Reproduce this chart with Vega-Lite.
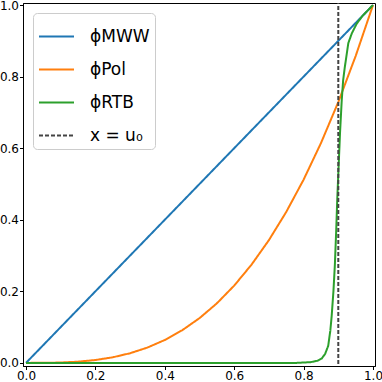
{
  "$schema": "https://vega.github.io/schema/vega-lite/v6.json",
  "width": 352,
  "height": 363,
  "autosize": "none",
  "padding": {"left": 23, "top": 3, "right": 7, "bottom": 16},
  "background": "white",
  "config": {
    "font": "DejaVu Sans",
    "view": {"stroke": "black", "strokeWidth": 1},
    "axis": {"grid": false, "domainColor": "black", "tickColor": "black", "labelColor": "black", "labelFontSize": 12, "tickSize": 3.5, "labelPadding": 1, "title": null, "labelFont": "DejaVu Sans"}
  },
  "data": {
    "values": [
      {"s": "ϕMWW", "u": 0, "v": 0, "o": 0},
      {"s": "ϕMWW", "u": 1, "v": 1, "o": 1},
      {"s": "ϕPol", "u": 0, "v": 0, "o": 0},
      {"s": "ϕPol", "u": 0.05, "v": 0.000125, "o": 1},
      {"s": "ϕPol", "u": 0.1, "v": 0.001, "o": 2},
      {"s": "ϕPol", "u": 0.15, "v": 0.003375, "o": 3},
      {"s": "ϕPol", "u": 0.2, "v": 0.008, "o": 4},
      {"s": "ϕPol", "u": 0.25, "v": 0.015625, "o": 5},
      {"s": "ϕPol", "u": 0.3, "v": 0.027, "o": 6},
      {"s": "ϕPol", "u": 0.35, "v": 0.042875, "o": 7},
      {"s": "ϕPol", "u": 0.4, "v": 0.064, "o": 8},
      {"s": "ϕPol", "u": 0.45, "v": 0.091125, "o": 9},
      {"s": "ϕPol", "u": 0.5, "v": 0.125, "o": 10},
      {"s": "ϕPol", "u": 0.55, "v": 0.166375, "o": 11},
      {"s": "ϕPol", "u": 0.6, "v": 0.216, "o": 12},
      {"s": "ϕPol", "u": 0.65, "v": 0.274625, "o": 13},
      {"s": "ϕPol", "u": 0.7, "v": 0.343, "o": 14},
      {"s": "ϕPol", "u": 0.75, "v": 0.421875, "o": 15},
      {"s": "ϕPol", "u": 0.8, "v": 0.512, "o": 16},
      {"s": "ϕPol", "u": 0.85, "v": 0.614125, "o": 17},
      {"s": "ϕPol", "u": 0.9, "v": 0.729, "o": 18},
      {"s": "ϕPol", "u": 0.95, "v": 0.857375, "o": 19},
      {"s": "ϕPol", "u": 1, "v": 1, "o": 20},
      {"s": "ϕRTB", "u": 0, "v": 0, "o": 0},
      {"s": "ϕRTB", "u": 0.78, "v": 0, "o": 1},
      {"s": "ϕRTB", "u": 0.82, "v": 0.002, "o": 2},
      {"s": "ϕRTB", "u": 0.84, "v": 0.006, "o": 3},
      {"s": "ϕRTB", "u": 0.852, "v": 0.012, "o": 4},
      {"s": "ϕRTB", "u": 0.862, "v": 0.025, "o": 5},
      {"s": "ϕRTB", "u": 0.871, "v": 0.048, "o": 6},
      {"s": "ϕRTB", "u": 0.877, "v": 0.09, "o": 7},
      {"s": "ϕRTB", "u": 0.881, "v": 0.132, "o": 8},
      {"s": "ϕRTB", "u": 0.886, "v": 0.2, "o": 9},
      {"s": "ϕRTB", "u": 0.89, "v": 0.271, "o": 10},
      {"s": "ϕRTB", "u": 0.894, "v": 0.37, "o": 11},
      {"s": "ϕRTB", "u": 0.897, "v": 0.457, "o": 12},
      {"s": "ϕRTB", "u": 0.901, "v": 0.55, "o": 13},
      {"s": "ϕRTB", "u": 0.905, "v": 0.643, "o": 14},
      {"s": "ϕRTB", "u": 0.91, "v": 0.735, "o": 15},
      {"s": "ϕRTB", "u": 0.914, "v": 0.79, "o": 16},
      {"s": "ϕRTB", "u": 0.919, "v": 0.828, "o": 17},
      {"s": "ϕRTB", "u": 0.929, "v": 0.894, "o": 18},
      {"s": "ϕRTB", "u": 0.939, "v": 0.921, "o": 19},
      {"s": "ϕRTB", "u": 0.953, "v": 0.948, "o": 20},
      {"s": "ϕRTB", "u": 0.97, "v": 0.97, "o": 21},
      {"s": "ϕRTB", "u": 1, "v": 1, "o": 22},
      {"s": "x = u₀", "u": 0.9, "v": -0.02, "o": 0},
      {"s": "x = u₀", "u": 0.9, "v": 1.02, "o": 1}
    ]
  },
  "mark": {"type": "line", "clip": true},
  "encoding": {
    "x": {"field": "u", "type": "quantitative", "scale": {"domain": [-0.0087, 1.0058], "nice": false, "zero": false}, "axis": {"values": [0, 0.2, 0.4, 0.6, 0.8, 1], "format": ".1f"}},
    "y": {"field": "v", "type": "quantitative", "scale": {"domain": [-0.0087, 1.0058], "nice": false, "zero": false}, "axis": {"values": [0, 0.2, 0.4, 0.6, 0.8, 1], "format": ".1f"}},
    "order": {"field": "o", "type": "quantitative"},
    "color": {"field": "s", "type": "nominal", "scale": {"domain": ["ϕMWW", "ϕPol", "ϕRTB", "x = u₀"], "range": ["#1f77b4", "#ff7f0e", "#2ca02c", "#444444"]},
      "legend": {"title": null, "orient": "top-left", "offset": 10, "symbolType": "stroke", "symbolSize": 1225, "labelFontSize": 17, "labelFont": "DejaVu Sans", "labelColor": "black", "labelOffset": 15, "rowPadding": 6, "padding": 5, "strokeColor": "#cccccc", "fillColor": "white", "cornerRadius": 4}},
    "strokeDash": {"field": "s", "type": "nominal", "scale": {"domain": ["ϕMWW", "ϕPol", "ϕRTB", "x = u₀"], "range": [[1, 0], [1, 0], [1, 0], [4, 2]]}},
    "strokeWidth": {"field": "s", "type": "nominal", "scale": {"domain": ["ϕMWW", "ϕPol", "ϕRTB", "x = u₀"], "range": [2, 2, 2, 1]}}
  }
}
